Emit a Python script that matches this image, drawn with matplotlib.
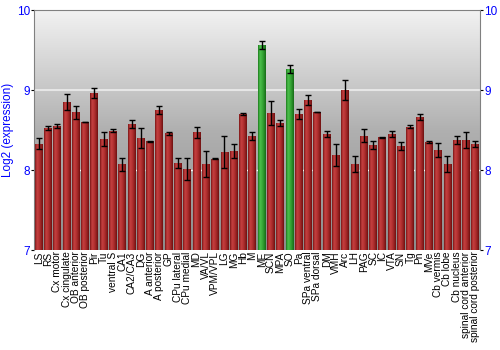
import numpy as np
import matplotlib
matplotlib.use("Agg")
import matplotlib.pyplot as plt
from matplotlib.colors import LinearSegmentedColormap

plt.rcParams['font.family'] = ['Liberation Sans', 'DejaVu Sans']

regions = ["LS", "RS", "Cx motor", "Cx cingulate", "OB anterior", "OB posterior",
           "Pir", "Tu", "ventral S", "CA1", "CA2/CA3", "DG", "A anterior",
           "A posterior", "GP", "CPu lateral", "CPu medial", "MD", "VA/VL",
           "VPM/VPL", "LG", "MG", "Hb", "M", "ME", "SCN", "MPA", "SO", "Pa",
           "SPa ventral", "SPa dorsal", "DM", "VMH", "Arc", "LH", "PAG", "SC",
           "IC", "VTA", "SN", "Tg", "Pn", "MVe", "Cb vermis", "Cb lobe",
           "Cb nucleus", "spinal cord anterior", "spinal cord posterior"]

expr = [8.33, 8.525, 8.55, 8.85, 8.72, 8.60, 8.96, 8.39, 8.49, 8.07, 8.58,
        8.40, 8.36, 8.75, 8.46, 8.09, 8.01, 8.47, 8.075, 8.14, 8.225, 8.24,
        8.70, 8.43, 9.56, 8.71, 8.59, 9.26, 8.70, 8.875, 8.725, 8.45, 8.19,
        9.00, 8.075, 8.43, 8.31, 8.41, 8.45, 8.30, 8.54, 8.66, 8.35, 8.25,
        8.075, 8.38, 8.37, 8.325]

err = [0.07, 0.02, 0.03, 0.10, 0.08, 0.005, 0.06, 0.09, 0.02, 0.08, 0.05,
       0.12, 0.005, 0.05, 0.02, 0.06, 0.14, 0.07, 0.16, 0.005, 0.20, 0.09,
       0.01, 0.05, 0.05, 0.15, 0.04, 0.05, 0.06, 0.06, 0.005, 0.04, 0.14,
       0.13, 0.10, 0.08, 0.05, 0.005, 0.04, 0.05, 0.02, 0.04, 0.01, 0.09,
       0.10, 0.05, 0.10, 0.04]

highlight = ["ME", "SO"]

blue = "#0000ff"

fig = plt.figure(figsize=(5, 3.5), dpi=100)
ax = fig.add_axes([0.068, 0.2857, 0.892, 0.6857])

x = np.arange(len(regions))

# background gradient
bg = LinearSegmentedColormap.from_list("bg", ["#8c8c8c", "#b0b0b0", "#f2f2f2"])
ax.imshow(np.linspace(0, 1, 256).reshape(-1, 1), cmap=bg, origin="lower",
          extent=[0, 1, 0, 1], transform=ax.transAxes, aspect="auto", zorder=0)

ax.axhline(9, color="#e6e6e6", lw=1.5, zorder=1)
ax.axhline(8, color="white", lw=1, ls=(0, (2, 6)), zorder=1)

red_cm = LinearSegmentedColormap.from_list(
    "red", ["#7a1515", "#c44040", "#b83434", "#9a2424", "#6e1010"])
green_cm = LinearSegmentedColormap.from_list(
    "green", ["#1c7a1c", "#4cc04c", "#3cae3c", "#2a922a", "#186a18"])
shade = np.linspace(0, 1, 64).reshape(1, -1)

bars = ax.bar(x, [v - 7 for v in expr], bottom=7, width=0.85,
              color="none", edgecolor="none", zorder=2)
for name, b in zip(regions, bars):
    cm = green_cm if name in highlight else red_cm
    x0 = b.get_x()
    im = ax.imshow(shade, cmap=cm, aspect="auto", zorder=2,
                   extent=[x0, x0 + b.get_width(), 7, 7 + b.get_height()])
    im.set_clip_path(b)

ax.errorbar(x, expr, yerr=err, fmt="none", ecolor="black", elinewidth=1,
            capsize=2, capthick=1, zorder=3)

ax.set_xlim(-0.5, len(regions) - 0.5)
ax.set_ylim(7, 10)

ax.set_xticks(x)
ax.set_xticklabels(regions, rotation=90, fontsize=7.3)
ax.tick_params(axis="x", length=0, pad=1)

ax.set_yticks([7, 8, 9, 10])
ax.tick_params(axis="y", labelcolor=blue, labelsize=8.5, length=2, pad=1,
               right=True, labelright=True, direction="out")
ax.set_ylabel("Log2 (expression)", color=blue, fontsize=8.5, labelpad=1.5)

for s in ax.spines.values():
    s.set_color("#808080")
ax.spines["bottom"].set_visible(False)

fig.savefig("out.png", dpi=100)
